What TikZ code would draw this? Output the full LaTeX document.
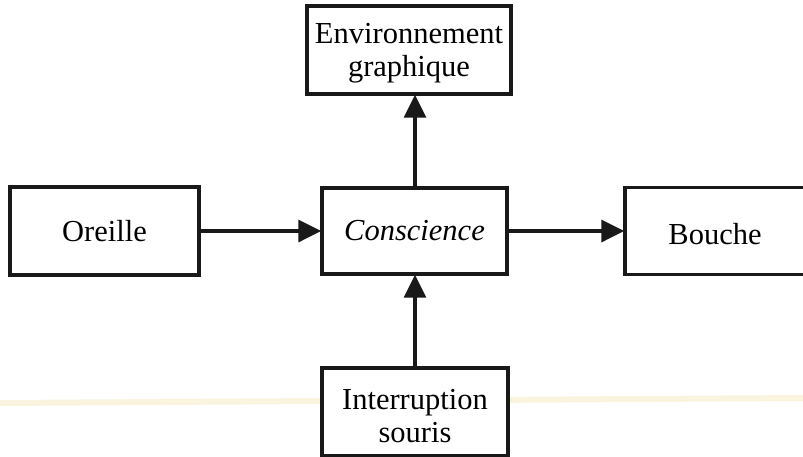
\documentclass[tikz,border=0pt]{standalone}
\usepackage{fontspec}
\setmainfont{Liberation Serif}
\usetikzlibrary{arrows.meta}
\newcommand{\shifttext}[2]{\raisebox{#1}[\height][\depth]{#2}}
\newcommand{\twolines}[3]{\shifttext{#1}{\begin{tabular}{@{}c@{}}#2\\#3\end{tabular}}}
\begin{document}
\begin{tikzpicture}[x=1pt,y=-1pt,
  box/.style={draw=black!90, line width=3.4pt, fill=white, inner sep=0pt,
    align=center, font=\fontsize{30.5}{33}\selectfont},
  conn/.style={draw=black!90, line width=3.4pt, -{Triangle[length=23pt,width=22pt]}, shorten >=-1pt}]
\useasboundingbox (0,0) rectangle (803,456);
\clip (0,0) rectangle (803,456);
\draw[line width=6pt, color={rgb,255:red,247;green,236;blue,200}, opacity=0.6] (0,403) -- (803,398);
\node[box, minimum width=189pt, minimum height=88pt] (oreille) at (104.5,231) {Oreille};
\node[box, minimum width=185pt, minimum height=86pt] (cons) at (414.5,231) {\itshape Conscience};
\node[box, minimum width=184pt, minimum height=87pt, text width=184pt] (bouche) at (717,231) {\hspace*{-4pt}\shifttext{-3pt}{Bouche}};
\node[box, minimum width=204pt, minimum height=88pt] (env) at (409,50) {\twolines{-3pt}{Environnement}{graphique}};
\node[box, minimum width=186pt, minimum height=88pt] (inter) at (415,412) {\twolines{-7pt}{Interruption}{souris}};
\draw[conn] (oreille.east) -- (cons.west);
\draw[conn] (cons.east) -- (bouche.west);
\draw[conn] (cons.north -| inter.north) -- (env.south -| inter.north);
\draw[conn] (inter.north) -- (cons.south -| inter.north);
\end{tikzpicture}
\end{document}
